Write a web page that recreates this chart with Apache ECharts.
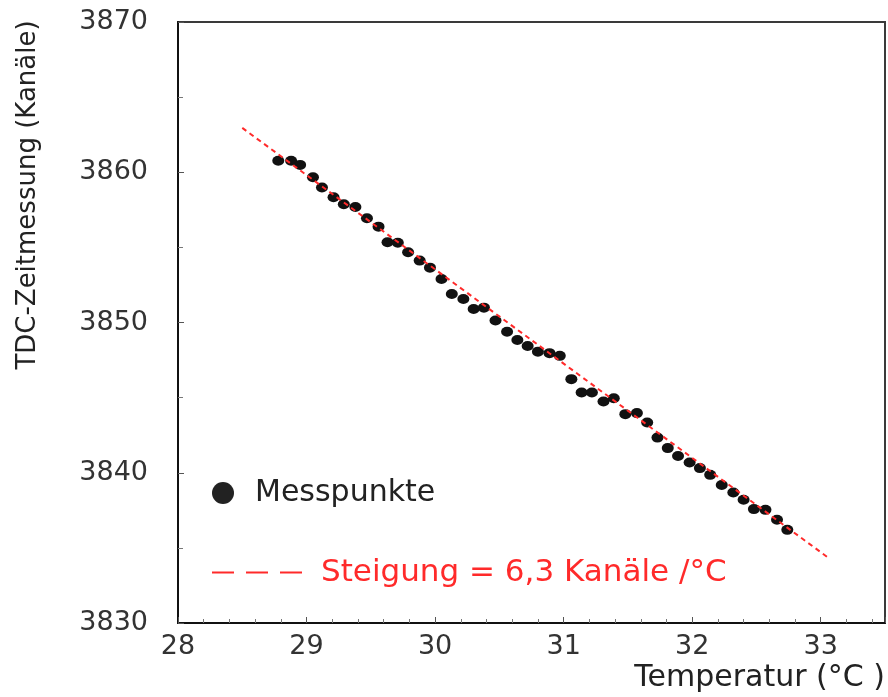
<!DOCTYPE html>
<html>
<head>
<meta charset="utf-8">
<script src="https://cdn.jsdelivr.net/npm/echarts@6/dist/echarts.min.js"></script>
<style>
html,body{margin:0;padding:0;background:#fff;}
#chart{width:888px;height:697px;}
</style>
</head>
<body>
<div id="chart"></div>
<script>
// Measured points: temperature (°C) and TDC reading (channels)
var tempX = [28.78, 28.88, 28.95, 29.05, 29.12, 29.21, 29.29, 29.38, 29.47, 29.56, 29.63, 29.71,
  29.79, 29.88, 29.96, 30.05, 30.13, 30.22, 30.30, 30.38, 30.47, 30.56, 30.64, 30.72,
  30.80, 30.89, 30.97, 31.06, 31.14, 31.22, 31.31, 31.39, 31.48, 31.57, 31.65, 31.73,
  31.81, 31.89, 31.98, 32.06, 32.14, 32.23, 32.32, 32.40, 32.48, 32.57, 32.66, 32.74];
var tdcY = [3860.77, 3860.77, 3860.49, 3859.67, 3858.98, 3858.34, 3857.87, 3857.69, 3856.94, 3856.38, 3855.34, 3855.31,
  3854.68, 3854.12, 3853.65, 3852.90, 3851.90, 3851.57, 3850.90, 3850.99, 3850.13, 3849.39, 3848.84, 3848.43,
  3848.06, 3847.96, 3847.78, 3846.23, 3845.34, 3845.34, 3844.74, 3844.96, 3843.90, 3843.97, 3843.34, 3842.34,
  3841.64, 3841.12, 3840.68, 3840.31, 3839.86, 3839.19, 3838.68, 3838.20, 3837.58, 3837.53, 3836.87, 3836.20];
// Fit line end points
var fitX = [28.5, 33.05];
var fitY = [3862.95, 3834.4];
// Axis ticks
var xTicks = [28, 29, 30, 31, 32, 33];
var yTicks = [3830, 3840, 3850, 3860, 3870];
var seriesNames = ['Messpunkte', 'Steigung = 6,3 Kanäle /°C'];
var axisNames = ['Temperatur (°C )', 'TDC-Zeitmessung (Kanäle)'];

var pts = tempX.map(function (x, i) { return [x, tdcY[i]]; });
var fit = fitX.map(function (x, i) { return [x, fitY[i]]; });

var FONT = 'DejaVu Sans';
var RED = '#ff2a2a';
var chart = echarts.init(document.getElementById('chart'), null, {renderer: 'canvas'});
chart.setOption({
  backgroundColor: '#ffffff',
  animation: false,
  textStyle: {fontFamily: FONT},
  grid: {left: 178, top: 22, right: 3, bottom: 74, show: true, borderColor: '#3a3a3a', borderWidth: 2, backgroundColor: 'transparent'},
  xAxis: {
    type: 'value', min: xTicks[0], max: 33.5, interval: 1,
    axisLine: {show: true, lineStyle: {color: '#111', width: 2}},
    axisTick: {show: true, inside: true, length: 6, lineStyle: {color: '#555'}},
    minorTick: {show: true, splitNumber: 5, length: 4, lineStyle: {color: '#777'}},
    splitLine: {show: false},
    axisLabel: {
      margin: 10, fontSize: 27, color: '#333', fontFamily: FONT,
      formatter: function (v) { return xTicks.indexOf(v) >= 0 ? String(v) : ''; }
    }
  },
  yAxis: {
    type: 'value', min: yTicks[0], max: yTicks[yTicks.length - 1], interval: 10,
    axisLine: {show: true, lineStyle: {color: '#111', width: 2}},
    axisTick: {show: true, inside: true, length: 6, lineStyle: {color: '#555'}},
    minorTick: {show: true, splitNumber: 2, length: 5, lineStyle: {color: '#777'}},
    splitLine: {show: false},
    axisLabel: {margin: 30, fontSize: 27, color: '#333', fontFamily: FONT,
      formatter: function (v) { return String(v); }}
  },
  legend: [{
    data: [{name: seriesNames[0], icon: 'circle', itemStyle: {color: '#222'}}],
    left: 207, top: 473, orient: 'vertical',
    itemWidth: 22, itemHeight: 22,
    textStyle: {fontSize: 30, color: '#222', fontFamily: FONT, padding: [0, 0, 0, 16]}
  }, {
    data: [{name: seriesNames[1], icon: 'path://M0,0h22v2h-22z M34,0h22v2h-22z M68,0h22v2h-22z', itemStyle: {color: RED}}],
    left: 207, top: 552, orient: 'vertical',
    itemWidth: 90, itemHeight: 2,
    textStyle: {fontSize: 31, color: RED, fontFamily: FONT, padding: [0, 0, 0, 14]}
  }],
  series: [{
    name: seriesNames[1], type: 'line', data: fit, symbol: 'none', z: 3,
    lineStyle: {color: RED, width: 2, type: [5, 4]},
    itemStyle: {color: RED}
  }, {
    name: seriesNames[0], type: 'scatter', data: pts, symbol: 'circle', symbolSize: [12, 10], z: 2,
    itemStyle: {color: '#111', opacity: 1}
  }],
  graphic: [{
    type: 'text', x: 885, y: 678,
    style: {text: axisNames[0], fontSize: 30, fill: '#222', fontFamily: FONT, align: 'right', verticalAlign: 'middle'}
  }, {
    type: 'text', x: 28, y: 195, rotation: Math.PI / 2,
    style: {text: axisNames[1], fontSize: 26, fill: '#222', fontFamily: FONT, align: 'center', verticalAlign: 'middle'}
  }]
});
</script>
</body>
</html>
